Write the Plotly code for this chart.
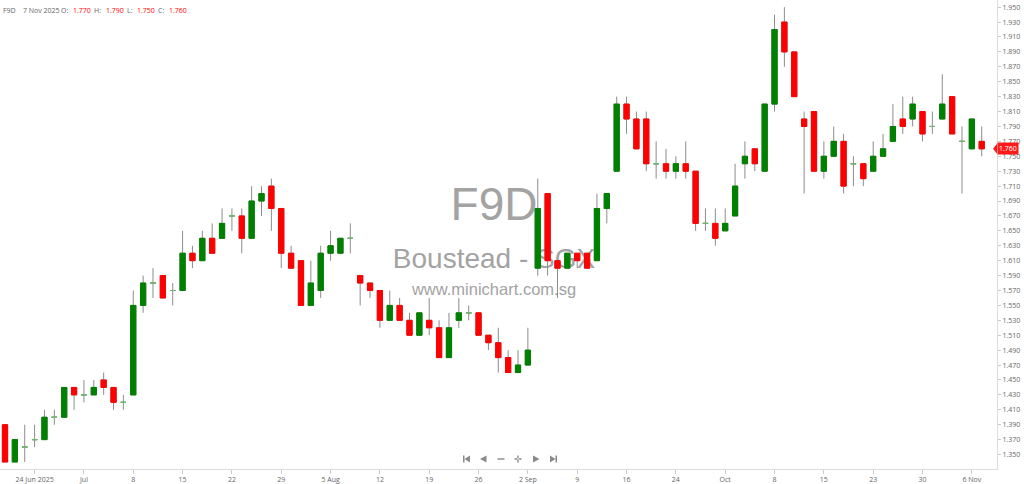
import plotly.graph_objects as go

# trading days shown on the chart (one day absent in the feed around 17-23 Sep)
dates = [
    "2025-06-19", "2025-06-20", "2025-06-23", "2025-06-24", "2025-06-25", "2025-06-26", "2025-06-27", "2025-06-30",
    "2025-07-01", "2025-07-02", "2025-07-03", "2025-07-04", "2025-07-07", "2025-07-08", "2025-07-09", "2025-07-10",
    "2025-07-11", "2025-07-14", "2025-07-15", "2025-07-16", "2025-07-17", "2025-07-18", "2025-07-21", "2025-07-22",
    "2025-07-23", "2025-07-24", "2025-07-25", "2025-07-28", "2025-07-29", "2025-07-30", "2025-07-31",
    "2025-08-01", "2025-08-04", "2025-08-05", "2025-08-06", "2025-08-07", "2025-08-08", "2025-08-11", "2025-08-12",
    "2025-08-13", "2025-08-14", "2025-08-15", "2025-08-18", "2025-08-19", "2025-08-20", "2025-08-21", "2025-08-22",
    "2025-08-25", "2025-08-26", "2025-08-27", "2025-08-28", "2025-08-29",
    "2025-09-01", "2025-09-02", "2025-09-03", "2025-09-04", "2025-09-05", "2025-09-08", "2025-09-09", "2025-09-10",
    "2025-09-11", "2025-09-12", "2025-09-15", "2025-09-16", "2025-09-17", "2025-09-19", "2025-09-22", "2025-09-23",
    "2025-09-24", "2025-09-25", "2025-09-26", "2025-09-29", "2025-09-30",
    "2025-10-01", "2025-10-02", "2025-10-03", "2025-10-06", "2025-10-07", "2025-10-08", "2025-10-09", "2025-10-10",
    "2025-10-13", "2025-10-14", "2025-10-15", "2025-10-16", "2025-10-17", "2025-10-21", "2025-10-22", "2025-10-23",
    "2025-10-24", "2025-10-27", "2025-10-28", "2025-10-29", "2025-10-30", "2025-10-31",
    "2025-11-03", "2025-11-04", "2025-11-05", "2025-11-06", "2025-11-07",
]

opens = [
    1.39, 1.34, 1.36, 1.37, 1.37, 1.40, 1.40, 1.44, 1.43, 1.43,
    1.45, 1.44, 1.42, 1.43, 1.55, 1.58, 1.59, 1.57, 1.57, 1.62,
    1.61, 1.64, 1.64, 1.67, 1.67, 1.64, 1.69, 1.71, 1.68, 1.62,
    1.61, 1.55, 1.57, 1.62, 1.62, 1.64, 1.59, 1.58, 1.57, 1.53,
    1.55, 1.53, 1.51, 1.53, 1.52, 1.48, 1.53, 1.54, 1.54, 1.51,
    1.50, 1.48, 1.46, 1.47, 1.60, 1.70, 1.61, 1.60, 1.62, 1.62,
    1.61, 1.68, 1.73, 1.82, 1.80, 1.80, 1.74, 1.74, 1.73, 1.74,
    1.73, 1.66, 1.66, 1.65, 1.67, 1.74, 1.76, 1.73, 1.82, 1.93,
    1.89, 1.80, 1.81, 1.73, 1.75, 1.77, 1.74, 1.74, 1.73, 1.75,
    1.77, 1.80, 1.80, 1.81, 1.79, 1.80, 1.83, 1.77, 1.76, 1.77,
]
highs = [
    1.39, 1.37, 1.39, 1.39, 1.41, 1.41, 1.44, 1.44, 1.45, 1.45,
    1.46, 1.44, 1.43, 1.57, 1.59, 1.60, 1.59, 1.58, 1.65, 1.63,
    1.65, 1.66, 1.68, 1.68, 1.68, 1.71, 1.71, 1.72, 1.68, 1.63,
    1.61, 1.61, 1.63, 1.65, 1.64, 1.66, 1.59, 1.58, 1.57, 1.57,
    1.56, 1.54, 1.54, 1.56, 1.53, 1.54, 1.56, 1.55, 1.54, 1.51,
    1.52, 1.49, 1.49, 1.52, 1.72, 1.70, 1.61, 1.62, 1.62, 1.62,
    1.70, 1.70, 1.83, 1.83, 1.81, 1.81, 1.77, 1.76, 1.75, 1.77,
    1.73, 1.68, 1.68, 1.68, 1.74, 1.77, 1.76, 1.82, 1.94, 1.95,
    1.89, 1.81, 1.81, 1.77, 1.79, 1.78, 1.75, 1.74, 1.77, 1.78,
    1.82, 1.83, 1.83, 1.81, 1.81, 1.86, 1.83, 1.79, 1.80, 1.79,
]
lows = [
    1.34, 1.34, 1.34, 1.36, 1.37, 1.39, 1.40, 1.41, 1.42, 1.43,
    1.43, 1.41, 1.41, 1.43, 1.54, 1.56, 1.56, 1.55, 1.57, 1.60,
    1.61, 1.62, 1.64, 1.65, 1.62, 1.64, 1.67, 1.65, 1.60, 1.60,
    1.55, 1.55, 1.56, 1.61, 1.62, 1.62, 1.55, 1.56, 1.52, 1.53,
    1.53, 1.51, 1.51, 1.51, 1.48, 1.48, 1.52, 1.53, 1.51, 1.49,
    1.46, 1.46, 1.46, 1.47, 1.59, 1.59, 1.56, 1.60, 1.60, 1.60,
    1.61, 1.66, 1.73, 1.78, 1.76, 1.73, 1.72, 1.72, 1.72, 1.72,
    1.65, 1.65, 1.63, 1.65, 1.67, 1.72, 1.73, 1.73, 1.81, 1.87,
    1.83, 1.70, 1.73, 1.72, 1.75, 1.70, 1.71, 1.71, 1.73, 1.75,
    1.77, 1.78, 1.79, 1.77, 1.78, 1.80, 1.78, 1.70, 1.76, 1.75,
]
closes = [
    1.34, 1.37, 1.36, 1.37, 1.40, 1.40, 1.44, 1.43, 1.43, 1.44,
    1.44, 1.42, 1.42, 1.55, 1.58, 1.58, 1.56, 1.57, 1.62, 1.61,
    1.64, 1.62, 1.66, 1.67, 1.64, 1.69, 1.70, 1.68, 1.62, 1.60,
    1.55, 1.58, 1.62, 1.63, 1.64, 1.64, 1.58, 1.57, 1.53, 1.55,
    1.53, 1.51, 1.54, 1.52, 1.48, 1.52, 1.54, 1.54, 1.51, 1.50,
    1.48, 1.46, 1.47, 1.49, 1.68, 1.61, 1.60, 1.62, 1.61, 1.60,
    1.68, 1.70, 1.82, 1.80, 1.76, 1.74, 1.74, 1.73, 1.74, 1.73,
    1.66, 1.66, 1.64, 1.66, 1.71, 1.75, 1.74, 1.82, 1.92, 1.89,
    1.83, 1.79, 1.73, 1.75, 1.77, 1.71, 1.74, 1.72, 1.75, 1.76,
    1.79, 1.79, 1.82, 1.78, 1.79, 1.82, 1.78, 1.77, 1.80, 1.76,
]

tick_dates = [
    "2025-06-24", "2025-07-01", "2025-07-08", "2025-07-15", "2025-07-22", "2025-07-29", "2025-08-05",
    "2025-08-12", "2025-08-19", "2025-08-26", "2025-09-02", "2025-09-09", "2025-09-16", "2025-09-24",
    "2025-10-01", "2025-10-08", "2025-10-15", "2025-10-23", "2025-10-30", "2025-11-06",
]
tick_labels = [
    "24 Jun 2025", "Jul", "8", "15", "22", "29", "5 Aug", "12", "19", "26", "2 Sep", "9", "16", "24",
    "Oct", "8", "15", "23", "30", "6 Nov",
]

symbol = "F9D"
company = "Boustead - SGX"
site = "www.minichart.com.sg"
last_label = "7 Nov 2025"

GREEN = "#008000"
RED = "#ff0000"
DOJI = "#6db86d"
WICK = "#8c8c8c"
TXT = "#666666"
FONT = "Open Sans"

# plot area in pixels (used only to place the decorations)
PW, PH = 997, 469


def px(x):
    return x / PW


def py(y):
    return (PH - y) / PH


def pick(vals, mask):
    return [v if m else None for v, m in zip(vals, mask)]


up = [c > o for o, c in zip(opens, closes)]
down = [c < o for o, c in zip(opens, closes)]
flat = [c == o for o, c in zip(opens, closes)]

fig = go.Figure()

# wicks (body of this trace is hidden under the coloured bodies)
fig.add_trace(go.Candlestick(
    x=dates, open=opens, high=highs, low=lows, close=closes,
    increasing=dict(line=dict(color=WICK, width=1), fillcolor=WICK),
    decreasing=dict(line=dict(color=WICK, width=1), fillcolor=WICK),
    hoverinfo="skip",
))
# bodies
fig.add_trace(go.Candlestick(
    x=dates, open=pick(opens, up), high=pick(closes, up), low=pick(opens, up), close=pick(closes, up),
    increasing=dict(line=dict(color=GREEN, width=1), fillcolor=GREEN),
    decreasing=dict(line=dict(color=GREEN, width=1), fillcolor=GREEN),
))
fig.add_trace(go.Candlestick(
    x=dates, open=pick(opens, down), high=pick(opens, down), low=pick(closes, down), close=pick(closes, down),
    increasing=dict(line=dict(color=RED, width=1), fillcolor=RED),
    decreasing=dict(line=dict(color=RED, width=1), fillcolor=RED),
))
fig.add_trace(go.Candlestick(
    x=dates, open=pick(opens, flat), high=pick(opens, flat), low=pick(opens, flat), close=pick(closes, flat),
    increasing=dict(line=dict(color=DOJI, width=1), fillcolor=DOJI),
    decreasing=dict(line=dict(color=DOJI, width=1), fillcolor=DOJI),
))

shapes = []
# watermark, drawn under the candles
for text, size, cy in [(symbol, 46, 200), (company, 28, 255), (site, 16.5, 287)]:
    shapes.append(dict(
        type="rect", xref="paper", yref="paper", layer="below",
        x0=px(394), x1=px(594), y0=py(cy + 20), y1=py(cy - 20),
        line=dict(width=0), fillcolor="rgba(0,0,0,0)",
        label=dict(text=text, textposition="middle center",
                   font=dict(family="Liberation Sans", size=size, color="#a3a3a3")),
    ))

# navigation buttons at the bottom
NAV = "#8a8a8a"
icons = [
    "M463,455.5 L464.5,455.5 L464.5,462.5 L463,462.5 Z M464.5,459 L470,455.5 L470,462.5 Z",
    "M480,459 L486.5,455.5 L486.5,462.5 Z",
    "M497.5,458.3 L504.5,458.3 L504.5,459.7 L497.5,459.7 Z",
    "M514.5,458.3 L521.5,458.3 L521.5,459.7 L514.5,459.7 Z M517.3,455.5 L518.7,455.5 L518.7,462.5 L517.3,462.5 Z",
    "M533,455.5 L539.5,459 L533,462.5 Z",
    "M550,455.5 L555.5,459 L550,462.5 Z M555.5,455.5 L557,455.5 L557,462.5 L555.5,462.5 Z",
]
for p in icons:
    parts = []
    for tok in p.split():
        cmd = tok[0] if tok[0] in "MLZ" else ""
        rest = tok[1:] if cmd else tok
        if rest:
            a, b = rest.split(",")
            parts.append(f"{cmd}{px(float(a)):.5f},{py(float(b)):.5f}")
        else:
            parts.append(cmd)
    shapes.append(dict(type="path", xref="paper", yref="paper", path=" ".join(parts),
                       fillcolor=NAV, line=dict(width=0)))

# pointer of the last price tag
tag_h = 5 / 745
shapes.append(dict(
    type="path", xref="paper", yref="y",
    path=f"M {px(993)},{closes[-1]} L 1,{closes[-1] + tag_h} L 1,{closes[-1] - tag_h} Z",
    fillcolor="#ff1a1a", line=dict(width=0),
))

annotations = [dict(
    x=1, xref="paper", xanchor="left", y=closes[-1], yref="y", yanchor="middle",
    text=f"{closes[-1]:.3f}", showarrow=False, bgcolor="#ff1a1a", borderpad=1,
    font=dict(family=FONT, size=7, color="white"),
)]

# header line: symbol, date and OHLC of the last bar
header = [
    (3, symbol, TXT), (23, last_label, TXT),
    (61, "O:", TXT), (73, f"{opens[-1]:.3f}", RED),
    (94, "H:", TXT), (106, f"{highs[-1]:.3f}", RED),
    (127, "L:", TXT), (137, f"{lows[-1]:.3f}", RED),
    (158, "C:", TXT), (169, f"{closes[-1]:.3f}", RED),
]
for x, text, color in header:
    annotations.append(dict(
        x=px(x - 1), xref="paper", xanchor="left", y=py(10.5), yref="paper", yanchor="middle",
        text=text, showarrow=False, borderpad=0,
        font=dict(family=FONT, size=7, color=color),
    ))

fig.update_layout(
    width=1024, height=484,
    margin=dict(l=0, r=27, t=0, b=15),
    paper_bgcolor="white", plot_bgcolor="white",
    showlegend=False, boxgap=0.24,
    font=dict(family=FONT, size=7, color=TXT),
    shapes=shapes, annotations=annotations,
    xaxis=dict(
        type="category", range=[-0.507, 100.55], rangeslider=dict(visible=False),
        tickmode="array", tickvals=tick_dates, ticktext=tick_labels,
        showgrid=False, zeroline=False, showline=True, linecolor="#dcdcdc",
        ticks="outside", ticklen=4, tickcolor="#cccccc",
    ),
    yaxis=dict(
        side="right", range=[1.3306, 1.9596], tick0=1.35, dtick=0.02, tickformat=".3f",
        showgrid=False, zeroline=False, showline=True, linecolor="#dcdcdc",
        ticks="outside", ticklen=3, tickcolor="#cccccc",
    ),
)

# the page's default body margin would push the 1024x484 figure out of the window
fig.write_html("out.html", config={"displayModeBar": False},
               post_script="document.body.style.margin='0';")
